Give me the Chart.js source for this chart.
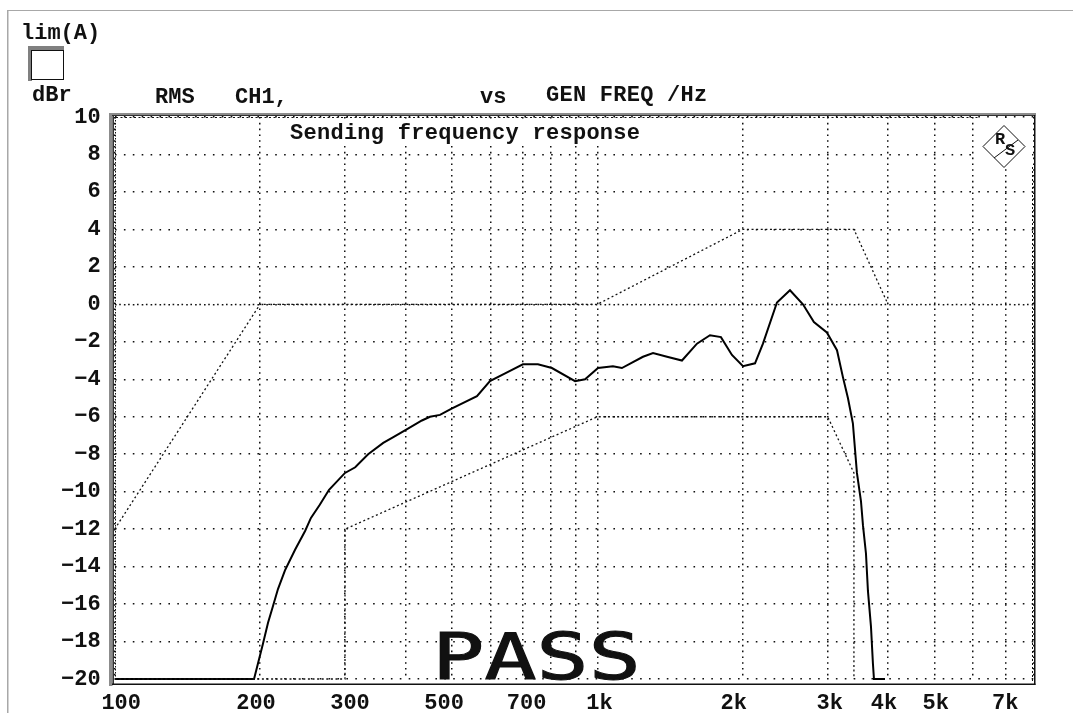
<!DOCTYPE html>
<html><head><meta charset="utf-8">
<style>html,body{margin:0;padding:0;background:#fff;overflow:hidden}canvas{display:block}</style>
<script src="https://cdn.jsdelivr.net/npm/chart.js@4/dist/chart.umd.min.js"></script>
</head><body><canvas id="c" width="1073" height="713"></canvas>
<script>
const gridFreqs=[100,200,300,400,500,600,700,800,900,1000,2000,3000,4000,5000,6000,7000,8000];
const tickNames={100:'100',200:'200',300:'300',500:'500',700:'700',1000:'1k',2000:'2k',3000:'3k',4000:'4k',5000:'5k',7000:'7k'};
const dbTicks=[10,8,6,4,2,0,-2,-4,-6,-8,-10,-12,-14,-16,-18,-20];
const respFreq=[100,194.4,202.9,207.8,212.8,217.9,225.3,236.4,248,255,266,278,300,315,335,360,377,401,433,450,472,500,563,599,653,701,753,805,899,943,1003,1077,1124,1243,1304,1394,1497,1608,1711,1803,1900,2003,2121,2203,2355,2506,2666,2809,2988,3136,3227,3304,3383,3449,3516,3550,3601,3635,3688,3723,3741,3943];
const respDb=[-20,-20,-18.1,-17,-16.1,-15.2,-14.2,-13.1,-12.1,-11.4,-10.7,-9.9,-9,-8.7,-8,-7.4,-7.1,-6.7,-6.2,-6,-5.9,-5.55,-4.9,-4.1,-3.6,-3.2,-3.2,-3.4,-4.1,-4,-3.4,-3.3,-3.4,-2.8,-2.6,-2.8,-3,-2.1,-1.65,-1.75,-2.7,-3.3,-3.15,-2.1,0.1,0.75,0,-0.95,-1.5,-2.45,-3.9,-5,-6.35,-9,-10.5,-11.8,-13.3,-15.3,-17.2,-19.2,-20,-20];
const upperFreq=[100,200,1000,2000,3400,4000];
const upperDb=[-12,0,0,4,4,0];
const lowerFreq=[100,300,300,1000,3000,3400,3400];
const lowerDb=[-20,-20,-12,-6,-6,-9,-20];
const pts=(f,d)=>f.map((x,i)=>({x,y:d[i]}));
const monoBold='bold 22px "Liberation Mono"';
const labelNudge={'100':6.5,'200':-4,'300':5,'500':-8,'700':4,'1k':2,'2k':-9,'3k':2,'4k':-4,'5k':1,'7k':0};

const decor={id:'decor',
 beforeDatasetsDraw(ch){
  const c=ch.ctx,a=ch.chartArea;
  c.save();
  c.fillStyle='#fff';
  c.fillRect(287,119,358,23.5);
  c.fillRect(977,118,55,49);
  const y0=Math.round(ch.scales.y.getPixelForValue(0))+0.5;
  c.strokeStyle='#111';c.lineWidth=1.5;c.setLineDash([1.6,7.3]);c.lineDashOffset=-4.5;
  c.beginPath();c.moveTo(a.left,y0);c.lineTo(a.right,y0);c.stroke();
  c.lineWidth=1;c.lineDashOffset=0;c.setLineDash([2,2.5]);
  c.beginPath();c.moveTo(116,117.5);c.lineTo(980,117.5);c.stroke();
  c.setLineDash([1.5,1.5]);
  c.beginPath();c.moveTo(115.5,117);c.lineTo(115.5,679);c.stroke();
  c.setLineDash([2,2]);
  c.beginPath();c.moveTo(1032.5,167);c.lineTo(1032.5,683);c.stroke();
  c.restore();
 },
 afterDraw(ch){
  const c=ch.ctx;
  c.save();
  c.fillStyle='#a8a8a8';
  c.fillRect(7,10,1066,1);c.fillRect(7,10,1.5,703);
  c.fillStyle='#8c8c8c';c.fillRect(109,113,927,2.5);c.fillRect(109,113,3.5,573);
  c.fillStyle='#333';c.fillRect(112,115,922,1);c.fillRect(112.5,115,1.5,569);
  c.fillStyle='#111';c.fillRect(1034,115,1.5,570);c.fillRect(112,683.5,923.5,1.5);
  c.fillStyle='#808080';c.fillRect(28,46,36,4);c.fillRect(28,46,4,35);
  c.fillStyle='#fff';c.fillRect(32,50,31,29);
  c.strokeStyle='#111';c.lineWidth=1;c.strokeRect(31.5,50.5,32,29);
  c.beginPath();c.moveTo(1004,125.5);c.lineTo(1025,146.5);c.lineTo(1004,167.5);c.lineTo(983,146.5);c.closePath();c.stroke();
  c.fillStyle='#111';c.font='bold 17px "Liberation Mono"';c.textAlign='center';c.textBaseline='middle';
  c.fillText('R',1000,140);c.fillText('S',1010,151);
  c.beginPath();c.moveTo(994,158);c.lineTo(1018,140);c.stroke();
  c.textAlign='left';c.textBaseline='alphabetic';c.font=monoBold;
  c.fillText('lim(A)',21,39);
  c.fillText('dBr',32,101);
  c.fillText('RMS',155,103);
  c.fillText('CH1,',235,103);
  c.fillText('vs',480,103);
  c.letterSpacing='0.25px';
  c.fillText('GEN FREQ /Hz',546,101);
  c.letterSpacing='0.27px';
  c.fillText('Sending frequency response',290,139);
  c.letterSpacing='-0.2px';
  c.translate(432,679);c.scale(1.36,1);
  c.font='64px "DejaVu Sans Mono"';
  c.lineWidth=1;c.strokeStyle='#111';
  c.fillText('PASS',0,0);c.strokeText('PASS',0,0);
  c.restore();
 }};

new Chart(document.getElementById('c'),{
 type:'scatter',
 plugins:[decor],
 data:{datasets:[
  {label:'Upper limit',data:pts(upperFreq,upperDb),showLine:true,borderColor:'#111',borderWidth:1.3,borderDash:[2,2.6],pointRadius:0,clip:false},
  {label:'Lower limit',data:pts(lowerFreq,lowerDb),showLine:true,borderColor:'#111',borderWidth:1.3,borderDash:[2,2.6],pointRadius:0,clip:false},
  {label:'RMS CH1',data:pts(respFreq,respDb),showLine:true,borderColor:'#000',borderWidth:2,pointRadius:0,tension:0,clip:false}
 ]},
 options:{
  responsive:false,animation:false,
  layout:{padding:{left:0,top:117,right:39.7,bottom:0}},
  plugins:{legend:{display:false},title:{display:false},tooltip:{enabled:false}},
  scales:{
   x:{type:'logarithmic',min:100,max:8000,
    afterBuildTicks(s){
     s.ticks=gridFreqs.map(v=>({value:v}));
     if(!s._nudged){
      s._nudged=true;
      const orig=s._computeLabelItems.bind(s);
      s._computeLabelItems=area=>{
       const items=orig(area);
       items.forEach(it=>{it.options.translation[0]+=labelNudge[it.label]||0;});
       return items;
      };
     }
    },
    afterFit(s){s.height=34;},
    grid:{color:'#111',lineWidth:1.5,drawTicks:false},
    border:{display:false,dash:[1.6,4.2]},
    ticks:{autoSkip:false,maxRotation:0,minRotation:0,padding:11,color:'#111',font:{family:'Liberation Mono',size:22,weight:'bold'},callback:v=>tickNames[v]||''}
   },
   y:{type:'linear',min:-20,max:10,
    afterBuildTicks(s){s.ticks=dbTicks.map(v=>({value:v}));},
    afterFit(s){s.width=114.7;},
    grid:{color:'#111',lineWidth:1.5,drawTicks:false},
    border:{display:false,dash:[1.6,7.3]},
    ticks:{autoSkip:false,padding:14,color:'#111',font:{family:'Liberation Mono',size:22,weight:'bold'},callback:v=>String(v).replace('-','\u2212')}
   }
  }
 }
});
</script></body></html>
